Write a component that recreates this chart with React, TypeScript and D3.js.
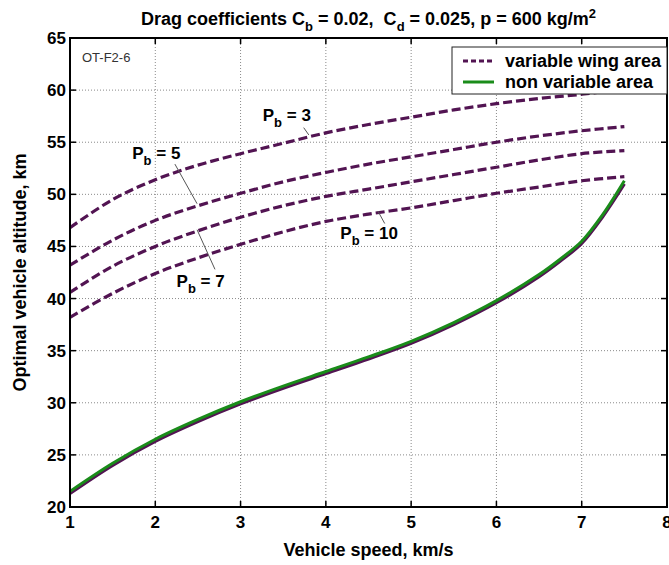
import React from 'react';
import * as d3 from 'd3';

// vehicle speed, km/s (dashed curves)
const speeds = [1, 1.5, 2, 2.5, 3, 3.5, 4, 4.5, 5, 5.5, 6, 6.5, 7, 7.5];
// optimal altitude, km - variable wing area
const pb3 = [46.8, 49.5, 51.4, 52.8, 53.9, 54.9, 55.9, 56.7, 57.4, 58.1, 58.7, 59.2, 59.6, 60.1];
const pb5 = [43.2, 45.6, 47.5, 48.9, 50.1, 51.2, 52.1, 52.9, 53.6, 54.3, 55.0, 55.6, 56.1, 56.5];
const pb7 = [40.6, 43.1, 45.0, 46.5, 47.8, 48.9, 49.8, 50.5, 51.2, 51.9, 52.6, 53.3, 53.9, 54.2];
const pb10 = [38.2, 40.5, 42.4, 43.9, 45.2, 46.4, 47.4, 48.1, 48.7, 49.4, 50.1, 50.7, 51.3, 51.7];

// lower solid pair
const speedsFine = [1, 1.5, 2, 2.5, 3, 3.5, 4, 4.5, 5, 5.5, 6, 6.5, 6.75, 7, 7.25, 7.5];
const nonVariable = [21.5, 24.2, 26.5, 28.4, 30.1, 31.6, 33.0, 34.4, 35.9, 37.7, 39.8, 42.3, 43.8, 45.5, 48.1, 51.3];
const variableLow = [21.3, 24.0, 26.3, 28.2, 29.9, 31.4, 32.8, 34.2, 35.7, 37.5, 39.6, 42.1, 43.6, 45.3, 47.9, 51.0];

const xTicks = [1, 2, 3, 4, 5, 6, 7, 8];
const yTicks = [20, 25, 30, 35, 40, 45, 50, 55, 60, 65];

// annotation: label position and leader line, in data units
const notes = [
  {sub: 'b', val: '3', lx: 3.26, ly: 57.0, x1: 3.74, y1: 56.4, x2: 3.8, y2: 55.7},
  {sub: 'b', val: '5', lx: 1.73, ly: 53.4, x1: 2.23, y1: 52.9, x2: 2.49, y2: 49.1},
  {sub: 'b', val: '7', lx: 2.25, ly: 41.1, x1: 2.7, y1: 42.8, x2: 2.49, y2: 46.6},
  {sub: 'b', val: '10', lx: 4.17, ly: 45.7, x1: 4.69, y1: 47.2, x2: 4.61, y2: 48.4},
];

const W = 669, H = 565;
const left = 70, right = 667, top = 38, bottom = 507;
const FONT = 'Liberation Sans, Arial, Helvetica, sans-serif';
const PURPLE = '#521452';
const GREEN = '#1a8c1a';

const App = (): JSX.Element => {
  const x = d3.scaleLinear().domain([1, 8]).range([left, right]);
  const y = d3.scaleLinear().domain([20, 65]).range([bottom, top]);

  const mk = (xs: number[]) => d3.line<number>()
    .x((d, i) => x(xs[i]))
    .y(d => y(d))
    .curve(d3.curveCatmullRom.alpha(0.5));

  const dashLine = mk(speeds);
  const fineLine = mk(speedsFine);

  return (
    <div style={{position: 'absolute', left: 0, top: 0}}>
      <svg width={W} height={H} viewBox={`0 0 ${W} ${H}`} style={{display: 'block', background: '#fff'}}>
        <rect x={0} y={0} width={W} height={H} fill="#fff" />
        {/* grid */}
        <g stroke="#8a8a8a" strokeWidth={1} strokeDasharray="1,2">
          {xTicks.slice(1, -1).map(t => (
            <line key={'gx' + t} x1={x(t)} x2={x(t)} y1={top} y2={bottom} />
          ))}
          {yTicks.slice(1, -1).map(t => (
            <line key={'gy' + t} x1={left} x2={right} y1={y(t)} y2={y(t)} />
          ))}
        </g>

        {/* curves */}
        <g fill="none">
          {[pb3, pb5, pb7, pb10].map((s, i) => (
            <path key={'d' + i} d={dashLine(s) || ''} stroke={PURPLE} strokeWidth={3.2} strokeDasharray="9,4" />
          ))}
          <path d={fineLine(variableLow) || ''} stroke={PURPLE} strokeWidth={3.2} />
          <path d={fineLine(nonVariable) || ''} stroke={GREEN} strokeWidth={3} />
        </g>

        {/* annotations */}
        {notes.map((n, i) => (
          <g key={'n' + i}>
            <line x1={x(n.x1)} y1={y(n.y1)} x2={x(n.x2)} y2={y(n.y2)} stroke="#555" strokeWidth={1} />
            <text x={x(n.lx)} y={y(n.ly)} fontFamily={FONT} fontWeight="bold" fontSize={17} fill="#000">
              P<tspan fontSize={13} dy={6}>{n.sub}</tspan><tspan dy={-6}>{' = ' + n.val}</tspan>
            </text>
          </g>
        ))}

        <text x={82} y={62} fontFamily={FONT} fontSize={13} fill="#333">OT-F2-6</text>

        {/* axes box and ticks */}
        <g stroke="#000" strokeWidth={1.5}>
          {xTicks.slice(1, -1).map(t => (
            <g key={'tx' + t}>
              <line x1={x(t)} x2={x(t)} y1={bottom} y2={bottom - 6} />
              <line x1={x(t)} x2={x(t)} y1={top} y2={top + 6} />
            </g>
          ))}
          {yTicks.slice(1, -1).map(t => (
            <g key={'ty' + t}>
              <line x1={left} x2={left + 6} y1={y(t)} y2={y(t)} />
              <line x1={right} x2={right - 6} y1={y(t)} y2={y(t)} />
            </g>
          ))}
        </g>
        <rect x={left} y={top} width={right - left} height={bottom - top} fill="none" stroke="#000" strokeWidth={2} />

        {/* legend */}
        <g>
          <rect x={452} y={47} width={215} height={47} fill="#fff" stroke="#222" strokeWidth={1} />
          <line x1={463} x2={494} y1={61} y2={61} stroke={PURPLE} strokeWidth={3} strokeDasharray="5,3" />
          <line x1={463} x2={494} y1={82} y2={82} stroke={GREEN} strokeWidth={3} />
          <text x={505} y={67} fontFamily={FONT} fontWeight="bold" fontSize={18}>variable wing area</text>
          <text x={505} y={88} fontFamily={FONT} fontWeight="bold" fontSize={18}>non variable area</text>
        </g>

        {/* tick labels */}
        <g fontFamily={FONT} fontWeight="bold" fontSize={17} fill="#000">
          {xTicks.map(t => (
            <text key={'lx' + t} x={x(t)} y={bottom + 21} textAnchor="middle">{t}</text>
          ))}
          {yTicks.map(t => (
            <text key={'ly' + t} x={left - 4} y={y(t) + 6} textAnchor="end">{t}</text>
          ))}
        </g>

        {/* titles */}
        <text x={(left + right) / 2} y={25} textAnchor="middle" fontFamily={FONT} fontWeight="bold" fontSize={18}>
          Drag coefficients C<tspan fontSize={13} dy={6}>b</tspan><tspan dy={-6}>{' = 0.02,\u00a0\u00a0C'}</tspan>
          <tspan fontSize={13} dy={6}>d</tspan><tspan dy={-6}>{' = 0.025, p = 600 kg/m'}</tspan>
          <tspan fontSize={13} dy={-7}>2</tspan>
        </text>
        <text x={(left + right) / 2} y={556} textAnchor="middle" fontFamily={FONT} fontWeight="bold" fontSize={18}>
          Vehicle speed, km/s
        </text>
        <text transform={`translate(26, ${(top + bottom) / 2}) rotate(-90)`} textAnchor="middle"
              fontFamily={FONT} fontWeight="bold" fontSize={18}>
          Optimal vehicle altitude, km
        </text>
      </svg>
    </div>
  );
};

export default App;
